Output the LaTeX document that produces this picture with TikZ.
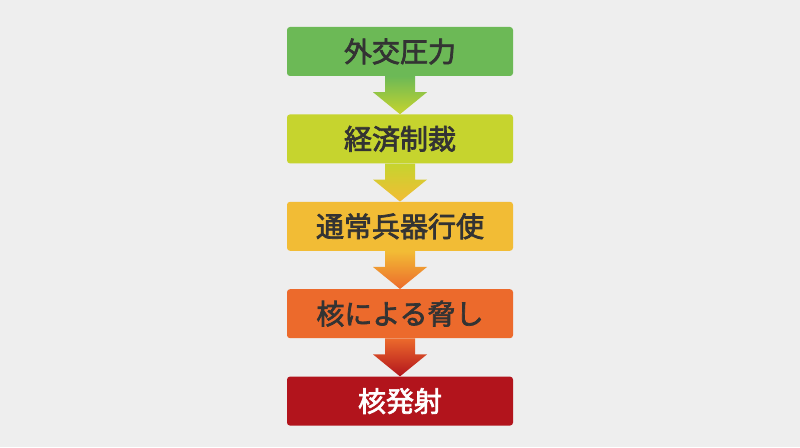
\documentclass[tikz,border=0pt]{standalone}
\usepackage{fontspec}
\usepackage{tikz}
\usetikzlibrary{positioning,calc}
\newfontfamily\jpfont{Noto Sans CJK JP}[FakeBold=2.5]

\definecolor{bgcol}{HTML}{EEEEEE}
\definecolor{stageA}{HTML}{6CB956}
\definecolor{stageB}{HTML}{C6D42E}
\definecolor{stageC}{HTML}{F2BC35}
\definecolor{stageD}{HTML}{EC6A2C}
\definecolor{stageE}{HTML}{B2141C}
\definecolor{txtcol}{HTML}{333333}

\tikzset{
    stagebox/.style={
        rectangle, rounded corners=3pt,
        minimum width=226pt, minimum height=49pt,
        inner sep=0pt, text=txtcol,
        font=\jpfont\fontsize{28}{31}\selectfont
    }
}

% shaded arrow from one box to the next
\newcommand{\stagearrow}[4]{%
    \shade[top color=#3, bottom color=#4]
        ($(#1.south)+(-15,0)$) -- ($(#2.north)+(-15,22)$)
        -- ($(#2.north)+(-27,22)$) -- (#2.north)
        -- ($(#2.north)+(27,22)$) -- ($(#2.north)+(15,22)$)
        -- ($(#1.south)+(15,0)$) -- cycle;%
}

\begin{document}
\begin{tikzpicture}[x=1pt,y=1pt,node distance=38pt]
        \fill[bgcol] (0,0) rectangle (800,447);
        \useasboundingbox (0,0) rectangle (800,447);
        \node[stagebox, fill=stageA] (diplo) at (400,395.5) {外交圧力};
        \node[stagebox, fill=stageB, below=of diplo] (sanct) {経済制裁};
        \node[stagebox, fill=stageC, below=of sanct] (conv) {通常兵器行使};
        \node[stagebox, fill=stageD, below=of conv] (threat) {核による脅し};
        \node[stagebox, fill=stageE, text=white, below=of threat] (launch) {核発射};
        \stagearrow{diplo}{sanct}{stageA}{stageB}
        \stagearrow{sanct}{conv}{stageB}{stageC}
        \stagearrow{conv}{threat}{stageC}{stageD}
        \stagearrow{threat}{launch}{stageD}{stageE}
    \end{tikzpicture}
\end{document}
